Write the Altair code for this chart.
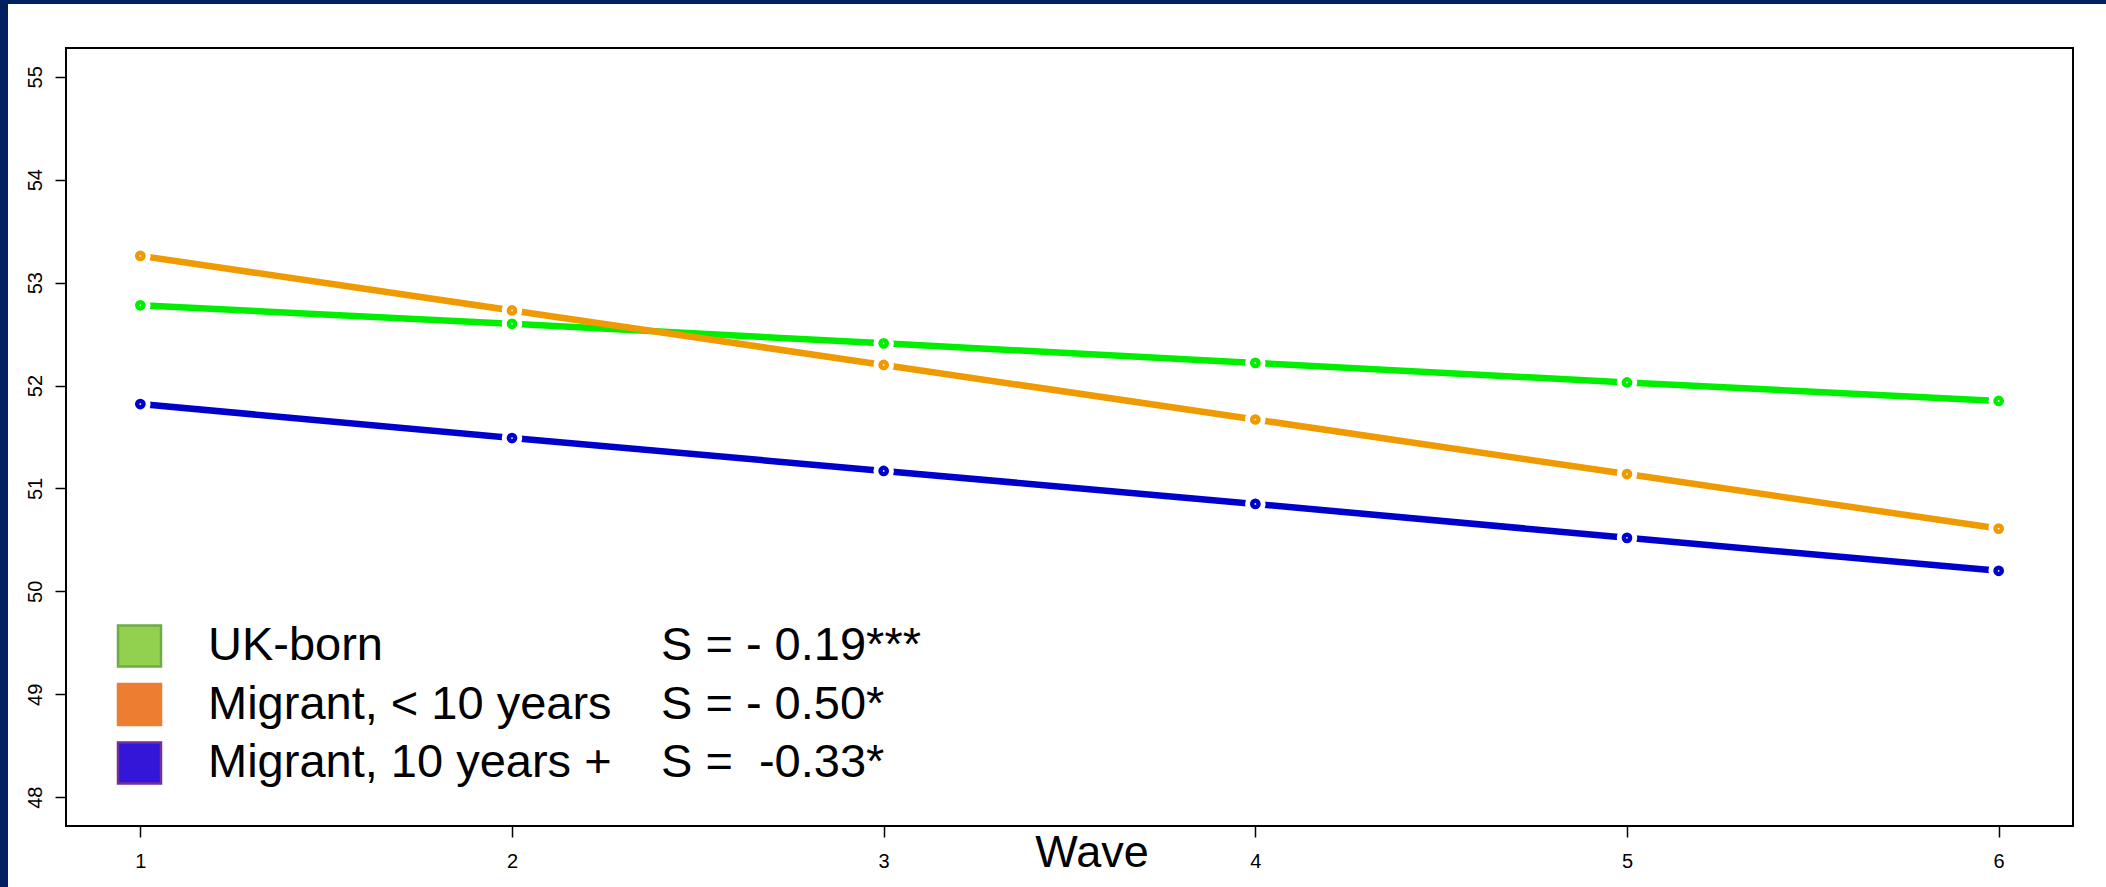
import altair as alt
import pandas as pd

# ---- data ----
waves = [1, 2, 3, 4, 5, 6]
uk_born = [52.78, 52.60, 52.41, 52.22, 52.03, 51.85]
migrant_lt10 = [53.26, 52.73, 52.20, 51.67, 51.14, 50.61]
migrant_10plus = [51.82, 51.49, 51.17, 50.85, 50.52, 50.20]

series_names = ["UK-born", "Migrant, < 10 years", "Migrant, 10 years +"]
line_colors = ["#00EE00", "#EE9A00", "#0000CD"]

y_ticks = [48, 49, 50, 51, 52, 53, 54, 55]

legend_labels = ["UK-born", "Migrant, < 10 years", "Migrant, 10 years +"]
legend_stats = ["S = - 0.19***", "S = - 0.50*", "S =\u00a0 -0.33*"]
legend_fills = ["#92D050", "#ED7D31", "#3416D8"]
legend_strokes = ["#6FAC46", "#ED7D31", "#7030A0"]

# ---- tables ----
rows = []
for name, vals in zip(series_names, [uk_born, migrant_lt10, migrant_10plus]):
    for w, v in zip(waves, vals):
        rows.append({"series": name, "wave": w, "value": v})
df = pd.DataFrame(rows)

leg_df = pd.DataFrame({
    "label": legend_labels,
    "stat": legend_stats,
    "fill": legend_fills,
    "stroke": legend_strokes,
})

FONT = "Liberation Sans"
W, H = 2007, 778

base = alt.Chart(df).encode(
    x=alt.X("wave:Q",
            scale=alt.Scale(domain=[0.8, 6.2], nice=False, zero=False),
            axis=alt.Axis(values=waves, format="d", title=None, labelPadding=14)),
    y=alt.Y("value:Q",
            scale=alt.Scale(domain=[47.72, 55.28], nice=False, zero=False),
            axis=alt.Axis(values=y_ticks, format="d", title=None, labelAngle=270,
                          labelAlign="center", labelBaseline="alphabetic",
                          labelPadding=14)),
    color=alt.Color("series:N",
                    scale=alt.Scale(domain=series_names, range=line_colors),
                    legend=None),
)

lines = base.mark_line(strokeWidth=6.5, strokeCap="round")
halo = base.mark_circle(size=420, opacity=1).encode(color=alt.value("white"))
dots = base.mark_circle(size=115, opacity=1)
centers = base.mark_circle(size=3, opacity=1).encode(color=alt.value("white"))

leg_base = alt.Chart(leg_df).transform_window(
    idx="row_number()"
).transform_calculate(
    py="539.5 + 58.5 * datum.idx",
    ptop="519 + 58.5 * datum.idx",
    pbot="560 + 58.5 * datum.idx",
)

leg_squares = leg_base.mark_rect(strokeWidth=2.5).encode(
    x=alt.value(52), x2=alt.value(95),
    y=alt.Y("ptop:Q", scale=None), y2="pbot:Q",
    fill=alt.Color("fill:N", scale=None),
    stroke=alt.Color("stroke:N", scale=None),
)
leg_text = leg_base.mark_text(align="left", baseline="middle", fontSize=47,
                              font=FONT, color="black").encode(
    x=alt.value(142), y=alt.Y("py:Q", scale=None), text="label:N")
leg_stat = leg_base.mark_text(align="left", baseline="middle", fontSize=47,
                              font=FONT, color="black").encode(
    x=alt.value(595), y=alt.Y("py:Q", scale=None), text="stat:N")

title_df = pd.DataFrame({"t": ["Wave"]})
wave_title = alt.Chart(title_df).mark_text(
    align="center", baseline="alphabetic", fontSize=45, font=FONT, color="black"
).encode(x=alt.value(1026), y=alt.value(819), text="t:N")

dummy = pd.DataFrame({"a": [0]})
navy_left = alt.Chart(dummy).mark_rect(color="#002060").encode(
    x=alt.value(-66), x2=alt.value(-58), y=alt.value(-48), y2=alt.value(839))
navy_top = alt.Chart(dummy).mark_rect(color="#002060").encode(
    x=alt.value(-66), x2=alt.value(2040), y=alt.value(-48), y2=alt.value(-44))

chart = alt.layer(
    lines, halo, dots, centers, leg_squares, leg_text, leg_stat, wave_title,
    navy_left, navy_top
).properties(
    width=W, height=H,
    padding={"left": 66, "top": 48, "right": 33, "bottom": 61},
    autosize=alt.AutoSizeParams(type="none"),
    background="white",
).configure_view(
    stroke="black", strokeWidth=2,
).configure_axis(
    domain=False, grid=False, tickColor="black", tickSize=11, tickWidth=1.5,
    labelFont=FONT, labelFontSize=20, labelColor="black",
)

chart.save("out.html", embed_options={"renderer": "svg", "actions": False})
